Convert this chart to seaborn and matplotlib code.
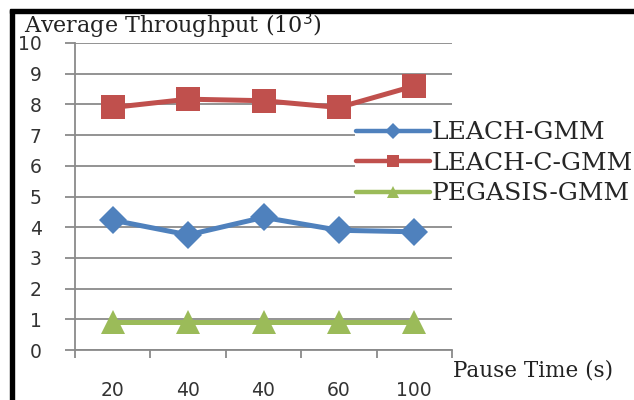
import matplotlib
matplotlib.use("Agg")
import matplotlib.pyplot as plt
from matplotlib.lines import Line2D
from matplotlib.patches import Rectangle
import seaborn as sns
import pandas as pd

# Pause time categories (as labelled on the x axis)
pause_labels = ["20", "40", "40", "60", "100"]

# Average throughput (10^3) per protocol
leach_gmm = [4.23, 3.75, 4.32, 3.90, 3.85]
leach_c_gmm = [7.90, 8.17, 8.12, 7.90, 8.60]
pegasis_gmm = [0.90, 0.90, 0.90, 0.90, 0.90]

series_names = ["LEACH-GMM", "LEACH-C-GMM", "PEGASIS-GMM"]
series_values = [leach_gmm, leach_c_gmm, pegasis_gmm]
colors = {"LEACH-GMM": "#4F81BD", "LEACH-C-GMM": "#C0504D", "PEGASIS-GMM": "#9BBB59"}
markers = {"LEACH-GMM": "D", "LEACH-C-GMM": "s", "PEGASIS-GMM": "^"}
msizes = {"LEACH-GMM": 14, "LEACH-C-GMM": 17, "PEGASIS-GMM": 17}

rows = []
for name, vals in zip(series_names, series_values):
    for i, v in enumerate(vals):
        rows.append({"pos": i, "throughput": v, "protocol": name})
df = pd.DataFrame(rows)

sns.set_theme(style="white")
plt.rcParams["font.family"] = ["DejaVu Serif"]

fig = plt.figure(figsize=(6.34, 4.0), dpi=100)
fig.patch.set_facecolor("white")
ax = fig.add_axes([75 / 634, 1 - 350 / 400, (452 - 75) / 634, (350 - 43) / 400])

for name in series_names:
    sub = df[df["protocol"] == name]
    sns.lineplot(data=sub, x="pos", y="throughput", ax=ax, color=colors[name],
                 marker=markers[name], markersize=msizes[name], linewidth=3.6,
                 markeredgewidth=0, legend=False, zorder=3)

ax.set_xlim(-0.5, 4.5)
ax.set_ylim(0, 10)
ax.set_yticks(range(0, 11))
ax.set_yticklabels([str(i) for i in range(0, 11)], family="DejaVu Sans",
                   fontsize=13.5, color="#333333")
ax.yaxis.grid(True, color="#8a8a8a", linewidth=1.3)
ax.set_axisbelow(True)

# category boundaries carry the tick marks, centres carry the labels
ax.set_xticks([-0.5, 0.5, 1.5, 2.5, 3.5, 4.5])
ax.set_xticklabels([])
ax.set_xticks(range(len(pause_labels)), minor=True)
ax.set_xticklabels(pause_labels, minor=True, family="DejaVu Sans", fontsize=13.5,
                   color="#333333")
ax.tick_params(axis="x", which="major", direction="out", length=6, width=1.3,
               color="#8a8a8a", bottom=True)
ax.tick_params(axis="x", which="minor", length=0, pad=22)
ax.tick_params(axis="y", direction="out", length=7, width=1.3, color="#8a8a8a",
               left=True, pad=17)

for s in ["top", "right"]:
    ax.spines[s].set_visible(False)
for s in ["left", "bottom"]:
    ax.spines[s].set_color("#8a8a8a")
    ax.spines[s].set_linewidth(1.3)
ax.set_xlabel("")
ax.set_ylabel("")

handles = [Line2D([], [], color=colors[n], marker=markers[n], markersize=8,
                  linewidth=3.2, markeredgewidth=0) for n in series_names]
leg = fig.legend(handles, series_names, loc="upper left",
                 bbox_to_anchor=(355 / 634, 1 - 120 / 400), frameon=True,
                 fontsize=18, handlelength=2.95, handletextpad=0.08,
                 labelspacing=0.3, borderpad=0.05, borderaxespad=0)
leg.get_frame().set_facecolor("white")
leg.get_frame().set_edgecolor("none")
leg.get_frame().set_alpha(1.0)

fig.text(24 / 634, 1 - 33 / 400, "Average Throughput (10$^3$)", fontsize=16,
         ha="left", va="baseline", color="#222222")
fig.text(453 / 634, 1 - 370 / 400, "Pause Time (s)", fontsize=15.5,
         ha="left", va="center", color="#222222")

# black frame along the top and left edges
fig.patches.append(Rectangle((10 / 634, 1 - 13 / 400), 1 - 10 / 634, 3.5 / 400,
                             transform=fig.transFigure, color="black", zorder=10))
fig.patches.append(Rectangle((10 / 634, 0), 4 / 634, 1 - 10 / 400,
                             transform=fig.transFigure, color="black", zorder=10))

fig.savefig("out.png", dpi=100, facecolor="white")
